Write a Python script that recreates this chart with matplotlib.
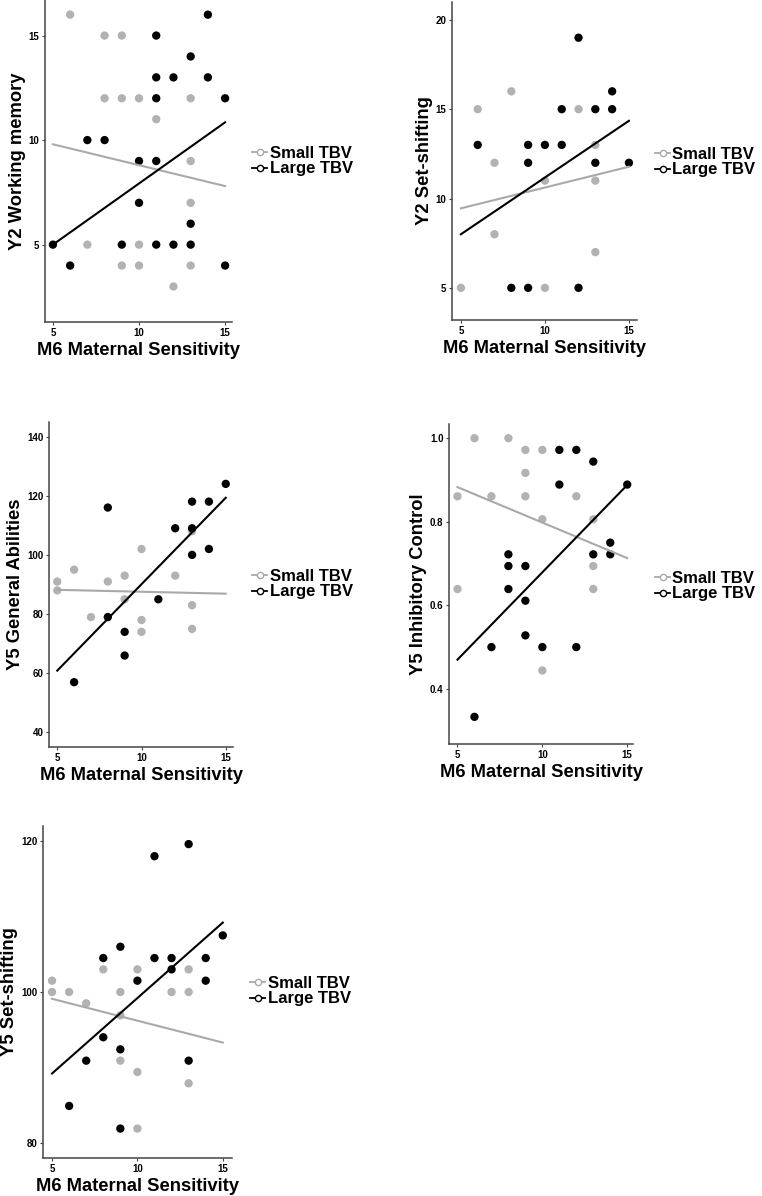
import matplotlib
matplotlib.use("Agg")
from matplotlib import pyplot as plt
from matplotlib.lines import Line2D

# x = M6 maternal sensitivity, y = child outcome; "small"/"large" = TBV group
# Y2 working memory
wm_small_x = [6, 8, 9, 8, 9, 10, 13, 11, 13, 13, 7, 10, 9, 10, 13, 12]
wm_small_y = [16, 15, 15, 12, 12, 12, 12, 11, 9, 7, 5, 5, 4, 4, 4, 3]
wm_large_x = [14, 11, 13, 11, 12, 14, 11, 15, 7, 8, 10, 11, 10, 13, 5, 9, 11, 12, 13, 6, 15]
wm_large_y = [16, 15, 14, 13, 13, 13, 12, 12, 10, 10, 9, 9, 7, 6, 5, 5, 5, 5, 5, 4, 4]

# Y2 set-shifting
ss2_small_x = [6, 12, 8, 13, 7, 10, 13, 7, 13, 5, 10]
ss2_small_y = [15, 15, 16, 13, 12, 11, 11, 8, 7, 5, 5]
ss2_large_x = [12, 14, 11, 13, 14, 6, 9, 10, 11, 9, 13, 15, 8, 9, 12]
ss2_large_y = [19, 16, 15, 15, 15, 13, 13, 13, 13, 12, 12, 12, 5, 5, 5]

# Y5 general abilities
ga_small_x = [5, 5, 6, 7, 8, 9, 9, 10, 10, 10, 12, 13, 13, 13]
ga_small_y = [91, 88, 95, 79, 91, 93, 85, 102, 78, 74, 93, 108, 83, 75]
ga_large_x = [8, 8, 9, 9, 6, 11, 12, 13, 13, 13, 14, 14, 15]
ga_large_y = [116, 79, 74, 66, 57, 85, 109, 118, 109, 100, 118, 102, 124]

# Y5 inhibitory control
ic_small_x = [5, 5, 6, 7, 8, 9, 9, 9, 10, 10, 10, 12, 13, 13, 13]
ic_small_y = [0.861, 0.639, 1.0, 0.861, 1.0, 0.972, 0.917, 0.861, 0.972, 0.806,
              0.444, 0.861, 0.806, 0.694, 0.639]
ic_large_x = [11, 12, 13, 11, 15, 8, 8, 9, 8, 9, 9, 7, 10, 12, 13, 14, 14, 6]
ic_large_y = [0.972, 0.972, 0.944, 0.889, 0.889, 0.722, 0.694, 0.694, 0.639, 0.611,
              0.528, 0.5, 0.5, 0.5, 0.722, 0.75, 0.722, 0.333]

# Y5 set-shifting
ss5_small_x = [5, 5, 6, 7, 8, 9, 10, 12, 13, 13, 9, 9, 10, 13, 10]
ss5_small_y = [101.5, 100, 100, 98.5, 103, 100, 103, 100, 103, 100, 96.9, 90.9, 89.4, 87.9, 81.9]
ss5_large_x = [11, 13, 15, 9, 8, 11, 12, 14, 12, 10, 14, 8, 9, 7, 13, 6, 9]
ss5_large_y = [118, 119.6, 107.5, 106, 104.5, 104.5, 104.5, 104.5, 103, 101.5, 101.5,
               94, 92.4, 90.9, 90.9, 84.9, 81.9]

# fitted lm lines, read at x = 5 and x = 15
fit_x = [5, 15]
wm_fit_small, wm_fit_large = [9.8, 7.8], [5.0, 10.85]
ss2_fit_small, ss2_fit_large = [9.45, 11.78], [8.0, 14.35]
ga_fit_small, ga_fit_large = [88.2, 86.9], [60.9, 119.3]
ic_fit_small, ic_fit_large = [0.883, 0.713], [0.47, 0.888]
ss5_fit_small, ss5_fit_large = [99.1, 93.3], [89.2, 109.2]

x_ticks = [5, 10, 15]
group_labels = ["Small TBV", "Large TBV"]

W, H = 762, 1196
GREY, BLACK, AXC = "#b2b2b2", "#000000", "#454545"

plt.rcParams["font.family"] = ["Liberation Sans", "DejaVu Sans"]
plt.rcParams["font.weight"] = "bold"
plt.rcParams["axes.labelweight"] = "bold"

fig = plt.figure(figsize=(W / 100, H / 100), dpi=100)


def box(l, t, r, b):
    return [l / W, 1 - b / H, (r - l) / W, (b - t) / H]


def panel(px, xlim, ylim, yticks, ylabel, small, large, fits, leg):
    ax = fig.add_axes(box(*px))
    ax.scatter(small[0], small[1], s=36, color=GREY, edgecolors="none", zorder=2)
    ax.scatter(large[0], large[1], s=36, color=BLACK, edgecolors="none", zorder=2)
    ax.plot(fit_x, fits[0], color="#a9a9a9", lw=1.5, zorder=3)
    ax.plot(fit_x, fits[1], color=BLACK, lw=1.5, zorder=3)
    ax.set_xlim(*xlim)
    ax.set_ylim(*ylim)
    ax.set_xticks(x_ticks)
    ax.set_yticks(yticks)
    if isinstance(yticks[0], float):
        ax.set_yticklabels([f"{t:.1f}" for t in yticks])
    for s in ("top", "right"):
        ax.spines[s].set_visible(False)
    for s in ("left", "bottom"):
        ax.spines[s].set_color(AXC)
        ax.spines[s].set_linewidth(1.1)
    ax.tick_params(length=2.5, width=0.8, color=AXC, labelsize=7, pad=1.5)
    ax.set_xlabel("M6 Maternal Sensitivity", fontsize=13.2, labelpad=3)
    ax.set_ylabel(ylabel, fontsize=13.2, labelpad=2)
    handles = [Line2D([], [], color=c, lw=1.3, marker="o", ms=4.5, mfc="white", mec=c, mew=1.0)
               for c in ("#a9a9a9", BLACK)]
    ax.legend(handles, group_labels, loc="center left",
              bbox_to_anchor=(leg[0] / W, 1 - leg[1] / H), bbox_transform=fig.transFigure,
              frameon=False, fontsize=12, handlelength=0.9, handletextpad=0.15,
              labelspacing=0.05, borderpad=0, borderaxespad=0)
    return ax


panel((45, 0, 232, 322), (4.54, 15.4), (1.3, 16.7), [5, 10, 15], "Y2 Working memory",
      (wm_small_x, wm_small_y), (wm_large_x, wm_large_y), (wm_fit_small, wm_fit_large), (252, 161))
panel((452, 2, 637, 320), (4.47, 15.48), (3.2, 21.0), [5, 10, 15, 20], "Y2 Set-shifting",
      (ss2_small_x, ss2_small_y), (ss2_large_x, ss2_large_y), (ss2_fit_small, ss2_fit_large), (655, 162))
panel((49, 422, 233, 747), (4.51, 15.43), (35.1, 144.9), [40, 60, 80, 100, 120, 140],
      "Y5 General Abilities",
      (ga_small_x, ga_small_y), (ga_large_x, ga_large_y), (ga_fit_small, ga_fit_large), (252, 584))
panel((449, 424, 633, 744), (4.5, 15.34), (0.268, 1.034), [0.4, 0.6, 0.8, 1.0],
      "Y5 Inhibitory Control",
      (ic_small_x, ic_small_y), (ic_large_x, ic_large_y), (ic_fit_small, ic_fit_large), (655, 586))
panel((43, 826, 232, 1158), (4.47, 15.54), (78.0, 122.0), [80, 100, 120], "Y5 Set-shifting",
      (ss5_small_x, ss5_small_y), (ss5_large_x, ss5_large_y), (ss5_fit_small, ss5_fit_large), (250, 991))

fig.savefig("out.png", dpi=100)
